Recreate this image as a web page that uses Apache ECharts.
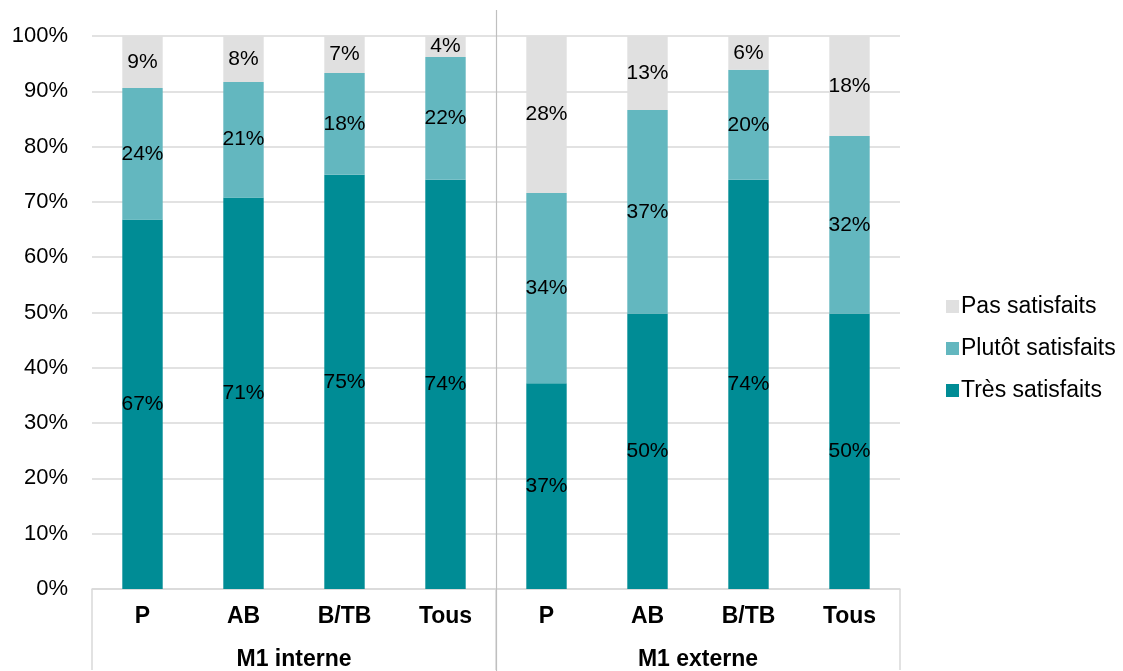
<!DOCTYPE html>
<html>
<head>
<meta charset="utf-8">
<script src="https://cdn.jsdelivr.net/npm/echarts@6/dist/echarts.min.js"></script>
<style>
  html, body { margin: 0; padding: 0; background: #fff; }
  #chart { width: 1123px; height: 671px; }
</style>
</head>
<body>
<div id="chart"></div>
<script>
  // catégories et groupes
  const categories = ['P', 'AB', 'B/TB', 'Tous', 'P', 'AB', 'B/TB', 'Tous'];
  const groups = ['M1 interne', 'M1 externe'];
  const yTicks = ['0%', '10%', '20%', '30%', '40%', '50%', '60%', '70%', '80%', '90%', '100%'];

  // parts en %
  const tresSatisfaits = [66.8, 70.8, 74.9, 74.0, 37.2, 49.8, 74.0, 49.8];
  const plutotSatisfaits = [23.8, 20.9, 18.4, 22.2, 34.4, 36.8, 19.9, 32.1];
  const pasSatisfaits = [9.4, 8.3, 6.7, 3.8, 28.4, 13.4, 6.1, 18.1];

  const font = 'Arial, "Liberation Sans", sans-serif';
  const myChart = echarts.init(document.getElementById('chart'));

  const labelStyle = {
    show: true,
    position: 'inside',
    color: '#000',
    fontSize: 21,
    fontFamily: font,
    formatter: p => Math.round(p.value) + '%'
  };

  function barSeries(name, data, color) {
    return {
      name: name,
      type: 'bar',
      stack: 'total',
      barWidth: '40%',
      data: data,
      itemStyle: { color: color },
      label: labelStyle
    };
  }

  const option = {
    animation: false,
    grid: { left: 92, right: 223, top: 36, bottom: 81 },
    legend: {
      orient: 'vertical',
      left: 941,
      top: 290,
      itemWidth: 13,
      itemHeight: 13,
      itemGap: 19,
      icon: 'rect',
      textStyle: { fontSize: 23, color: '#000', fontFamily: font, padding: [0, 0, 0, -3] },
      data: ['Pas satisfaits', 'Plutôt satisfaits', 'Très satisfaits']
    },
    xAxis: [{
      type: 'category',
      data: categories.map((c, i) => i + ':' + c),
      axisLine: { lineStyle: { color: '#D9D9D9', width: 1.5 } },
      axisTick: { show: false },
      axisLabel: {
        formatter: v => v.split(':')[1],
        fontSize: 23, fontWeight: 'bold', color: '#000', fontFamily: font, margin: 16
      }
    }, {
      type: 'category',
      position: 'bottom',
      data: groups,
      axisLine: { show: false },
      axisTick: { show: true, length: 81, lineStyle: { color: '#D9D9D9', width: 1.5 } },
      axisLabel: {
        fontSize: 23, fontWeight: 'bold', color: '#000', fontFamily: font, margin: 59
      }
    }],
    yAxis: {
      type: 'value',
      min: 0,
      max: 100,
      interval: 10,
      axisLine: { show: false },
      axisTick: { show: false },
      splitLine: { lineStyle: { color: '#D9D9D9', width: 1.5 } },
      axisLabel: {
        formatter: v => yTicks[Math.round(v / 10)],
        fontSize: 22, color: '#000', fontFamily: font, margin: 24
      }
    },
    series: [
      barSeries('Très satisfaits', tresSatisfaits, '#008C95'),
      barSeries('Plutôt satisfaits', plutotSatisfaits, '#63B7BF'),
      barSeries('Pas satisfaits', pasSatisfaits, '#E0E0E0')
    ]
  };
  myChart.setOption(option);

  // séparateur vertical entre les deux groupes
  const x3 = myChart.convertToPixel({ xAxisIndex: 0 }, 3);
  const x4 = myChart.convertToPixel({ xAxisIndex: 0 }, 4);
  const xMid = Math.round((x3 + x4) / 2) + 0.5;
  myChart.setOption({
    graphic: [{
      type: 'line',
      shape: { x1: xMid, y1: 10, x2: xMid, y2: 671 },
      style: { stroke: '#BFBFBF', lineWidth: 1.2 },
      z: 10
    }]
  });
</script>
</body>
</html>
